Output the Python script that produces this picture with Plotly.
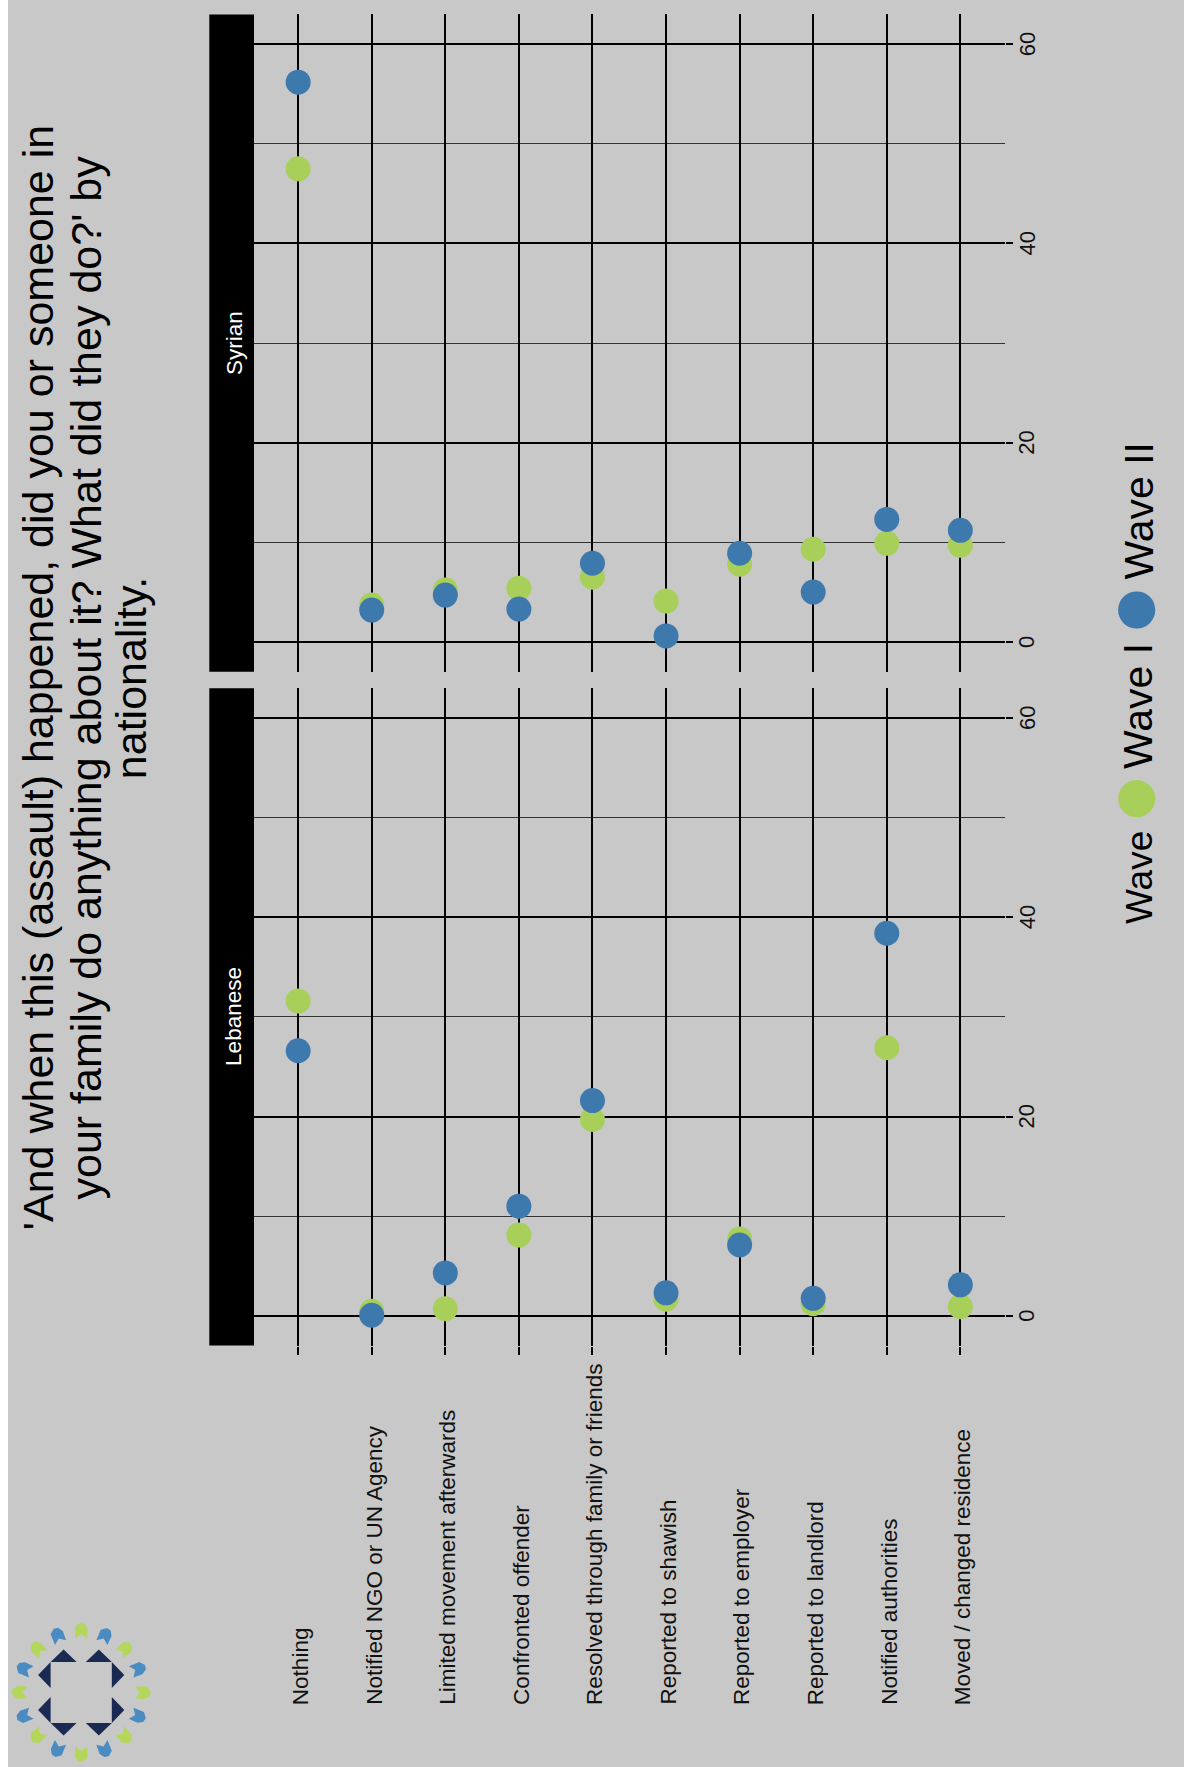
import math
import plotly.graph_objects as go

# ---------------- data ----------------
categories = ["Nothing", "Notified NGO or UN Agency", "Limited movement afterwards",
              "Confronted offender", "Resolved through family or friends",
              "Reported to shawish", "Reported to employer", "Reported to landlord",
              "Notified authorities", "Moved / changed residence"]
panels = ["Lebanese", "Syrian"]
leb_wave1 = [31.6, 0.45, 0.7, 8.1, 19.7, 1.65, 7.7, 1.2, 26.9, 0.9]
leb_wave2 = [26.6, 0.05, 4.3, 11.0, 21.6, 2.3, 7.1, 1.75, 38.4, 3.1]
syr_wave1 = [47.5, 3.7, 5.2, 5.4, 6.5, 4.1, 7.8, 9.3, 9.9, 9.7]
syr_wave2 = [56.2, 3.2, 4.7, 3.3, 7.9, 0.6, 8.9, 5.0, 12.3, 11.2]
series_names = ["Wave I", "Wave II"]
value_ticks = [0, 20, 40, 60]
title_lines = ["'And when this (assault) happened, did you or someone in",
               "your family do anything about it? What did they do?' by",
               "nationality."]

# ---------------- style ----------------
W, H = 1184, 1767
BG = "#C8C8C8"
GREEN = "#A7CF5A"
BLUE = "#3E79AD"
FONT = "Liberation Sans, Arial, Helvetica, sans-serif"


def px(x):
    return x / W


def py(y):
    return 1 - y / H


x_dom = [px(254), px(1004.5)]
leb_dom = [py(1345.6), py(688.2)]
syr_dom = [py(671.8), py(14.4)]

fig = go.Figure()

for xa, ya, w1, w2 in [("x", "y", leb_wave1, leb_wave2), ("x2", "y2", syr_wave1, syr_wave2)]:
    for name, vals, col in [(series_names[0], w1, GREEN), (series_names[1], w2, BLUE)]:
        fig.add_trace(go.Scatter(x=categories, y=vals, mode="markers", name=name,
                                 xaxis=xa, yaxis=ya, showlegend=False,
                                 marker=dict(size=25, color=col, line=dict(width=0))))

xaxis_common = dict(domain=x_dom, range=[-0.6, 9.6], type="category",
                    categoryorder="array", categoryarray=categories,
                    showgrid=True, gridcolor="black", gridwidth=1.8,
                    zeroline=False, showline=False, showticklabels=False)
yaxis_common = dict(range=[-3, 63], tickvals=value_ticks, side="right",
                    showgrid=True, gridcolor="black", gridwidth=1.8,
                    minor=dict(dtick=10, tick0=0, showgrid=True, gridcolor="#333333",
                               gridwidth=1, ticks=""),
                    ticks="outside", ticklen=7, tickwidth=1.8, tickcolor="black",
                    showticklabels=False, zeroline=False, showline=False)

fig.update_layout(
    width=W, height=H, autosize=False,
    margin=dict(l=0, r=0, t=0, b=0, pad=0),
    paper_bgcolor=BG, plot_bgcolor=BG,
    font=dict(family=FONT, color="black"),
    showlegend=False,
    xaxis=dict(**xaxis_common, anchor="y", ticks="outside", ticklen=8,
               tickwidth=1.8, tickcolor="black"),
    yaxis=dict(**yaxis_common, domain=leb_dom, anchor="x"),
    xaxis2=dict(**xaxis_common, anchor="y2", matches="x", ticks=""),
    yaxis2=dict(**yaxis_common, domain=syr_dom, anchor="x2"),
)

shapes = []
annotations = []

# value tick labels (rotated, right side of each panel)
for yref in ["y", "y2"]:
    for v in value_ticks:
        annotations.append(dict(text=str(v), xref="paper", yref=yref, x=px(1027), y=v,
                                textangle=-90, showarrow=False, xanchor="center", yanchor="middle",
                                font=dict(size=22, color="#111111", family=FONT)))

# strips
for name, dom in [("Lebanese", leb_dom), ("Syrian", syr_dom)]:
    shapes.append(dict(type="rect", xref="paper", yref="paper", x0=px(209.3), x1=px(254),
                       y0=dom[0], y1=dom[1], fillcolor="black", line=dict(width=0), layer="below"))
    annotations.append(dict(text=name, xref="paper", yref="paper", x=px(234), y=(dom[0] + dom[1]) / 2,
                            textangle=-90, showarrow=False, xanchor="center", yanchor="middle",
                            font=dict(size=22.5, color="white", family=FONT)))

# category labels
for c in categories:
    annotations.append(dict(text=c, xref="x", yref="paper", x=c, y=py(1707), xshift=2,
                            textangle=-90, showarrow=False, xanchor="center", yanchor="bottom",
                            font=dict(size=22.5, color="#111111", family=FONT)))

# title
for line, xc in zip(title_lines, [38.2, 85.5, 131.2]):
    annotations.append(dict(text=line, xref="paper", yref="paper", x=px(xc), y=py(678),
                            textangle=-90, showarrow=False, xanchor="center", yanchor="middle",
                            font=dict(size=43, color="black", family=FONT)))

# legend
annotations.append(dict(text="Wave", xref="paper", yref="paper", x=px(1139.5), y=py(926),
                        textangle=-90, showarrow=False, xanchor="center", yanchor="bottom",
                        font=dict(size=37, color="black", family=FONT)))
for label, yb, ycirc, col in [(series_names[0], 771, 798.7, GREEN), (series_names[1], 582, 610, BLUE)]:
    r = 18.6
    shapes.append(dict(type="circle", xref="paper", yref="paper",
                       x0=px(1136.7 - r), x1=px(1136.7 + r), y0=py(ycirc + r), y1=py(ycirc - r),
                       fillcolor=col, line=dict(width=0)))
    annotations.append(dict(text=label, xref="paper", yref="paper", x=px(1138), y=py(yb),
                            textangle=-90, showarrow=False, xanchor="center", yanchor="bottom",
                            font=dict(size=41, color="black", family=FONT)))

# white edge at the left
shapes.append(dict(type="rect", xref="paper", yref="paper", x0=0, x1=px(8), y0=0, y1=1,
                   fillcolor="white", line=dict(width=0)))

# logo (decoration)
cx, cy, hs = 81.2, 1692.5, 30.6
NAVY = "#1B2A52"


def path(points):
    return "M " + " L ".join(f"{px(a):.5f},{py(b):.5f}" for a, b in points) + " Z"


base, apex = 26.0, 12.5
for (ox, oy), (tx, ty) in [((0, -1), (1, 0)), ((0, 1), (1, 0)), ((-1, 0), (0, 1)), ((1, 0), (0, 1))]:
    ex, ey = cx + ox * hs, cy + oy * hs
    for sgn in (-1, 1):
        a0 = sgn * hs
        a1 = sgn * (hs - base)
        p0 = (ex + tx * a0, ey + ty * a0)
        p1 = (ex + tx * a1, ey + ty * a1)
        am = (a0 + a1) / 2
        p2 = (ex + tx * am + ox * apex, ey + ty * am + oy * apex)
        shapes.append(dict(type="path", xref="paper", yref="paper", path=path([p0, p1, p2]),
                           fillcolor=NAVY, line=dict(width=0)))

LEAF_G, LEAF_B = "#B4D65A", "#4A8CC2"
for k in range(16):
    ang = math.radians(90 - 22.5 * k)
    ux, uy = math.cos(ang), -math.sin(ang)
    vx, vy = -uy, ux
    rc = 61.5
    mx, my = cx + ux * rc, cy + uy * rc
    loc = [(-7.5, -6), (-3, 0), (-7.5, 6), (2, 6.5), (7, 3.5), (8, -1), (4, -6)]
    pts = [(mx + ux * a + vx * b, my + uy * a + vy * b) for a, b in loc]
    shapes.append(dict(type="path", xref="paper", yref="paper", path=path(pts),
                       fillcolor=LEAF_G if k % 2 == 0 else LEAF_B, line=dict(width=0)))

fig.update_layout(shapes=shapes, annotations=annotations)
fig.write_html("out.html", config={"displayModeBar": False},
               post_script="document.body.style.margin='0px';")
